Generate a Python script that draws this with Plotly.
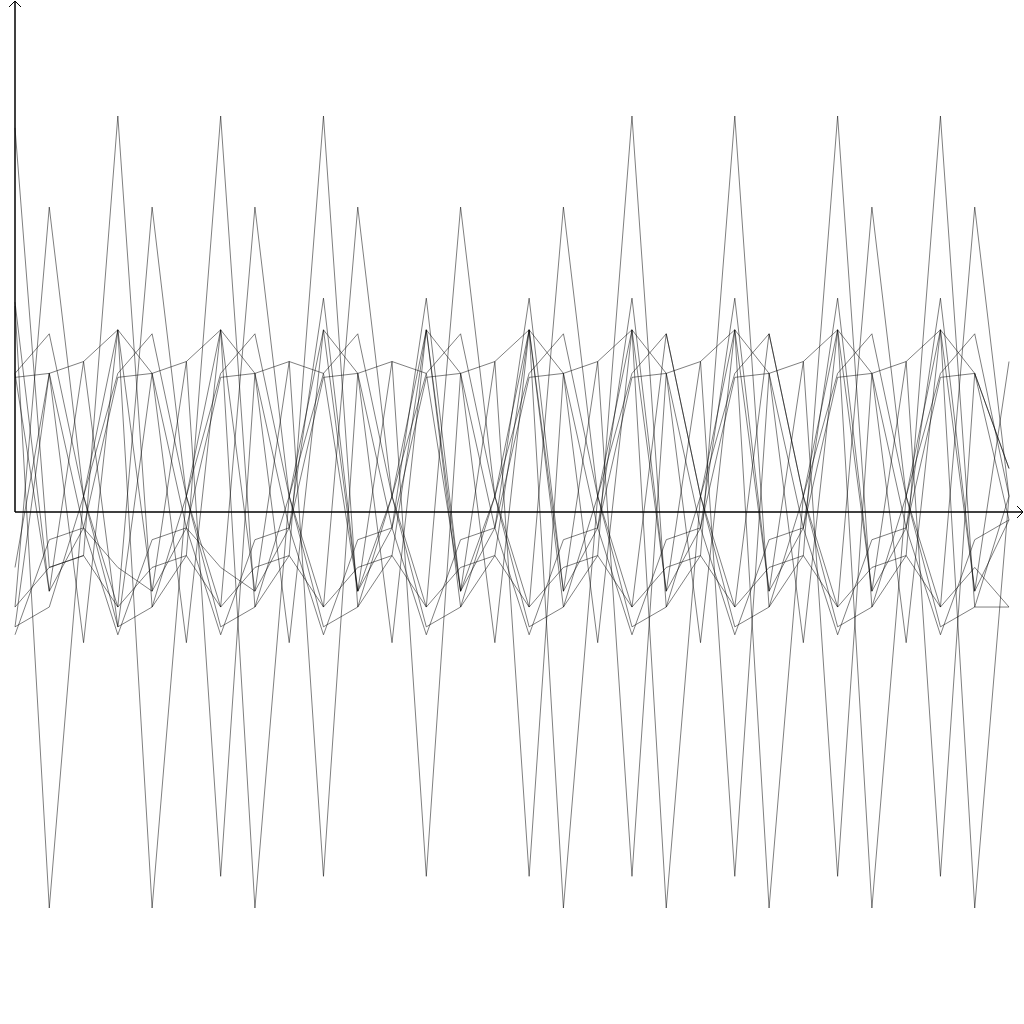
import plotly.graph_objects as go

# x positions (sample index)
steps = list(range(30))

# series values (+-1 = the tallest spikes)
s_peak = [0.97, -0.14, -0.11, 1.0, -0.24, -0.11, 1.0, -0.24, -0.11, 1.0, -0.24, -0.11, 0.46, -0.24, -0.11,
          0.46, -0.24, -0.11, 1.0, -0.24, -0.11, 1.0, -0.24, -0.11, 1.0, -0.24, -0.11, 1.0, -0.24, -0.24]
s_mid = [-0.24, 0.77, 0.04, -0.24, 0.77, 0.04, -0.24, 0.77, 0.04, -0.24, 0.77, 0.04, -0.24, 0.77, 0.04,
         -0.24, 0.77, 0.04, -0.24, 0.45, 0.04, -0.24, 0.45, 0.04, -0.24, 0.77, 0.04, -0.24, 0.77, 0.04]
s_trough = [0.52, -1.0, 0.04, 0.46, -1.0, 0.04, 0.46, -1.0, 0.04, 0.46, -0.2, 0.04, 0.46, -0.2, 0.04,
            0.46, -1.0, 0.04, 0.46, -1.0, 0.04, 0.46, -1.0, 0.04, 0.46, -1.0, 0.04, 0.46, -1.0, 0.04]
s_small = [0.53, -0.2, -0.04, -0.14, -0.2, -0.04, -0.14, -0.2, -0.04, 0.54, -0.2, -0.04, 0.54, -0.2, -0.04,
           0.54, -0.2, -0.04, 0.54, -0.2, -0.04, 0.54, -0.2, -0.04, 0.54, -0.2, -0.04, 0.54, -0.2, -0.02]
s_low = [-0.29, 0.35, 0.38, -0.29, 0.35, 0.38, -0.92, 0.35, 0.38, -0.92, 0.35, 0.38, -0.92, 0.35, 0.38,
         -0.92, 0.35, 0.38, -0.92, 0.35, 0.38, -0.92, 0.35, 0.38, -0.92, 0.35, 0.38, -0.92, 0.35, 0.11]
s_r = [0.35, -0.2, 0.38, 0.46, -0.2, 0.38, 0.46, -0.2, 0.38, 0.35, -0.2, 0.38, 0.35, -0.2, 0.38,
       0.46, -0.2, 0.38, 0.46, -0.2, 0.38, 0.46, -0.2, 0.38, 0.46, -0.2, 0.38, 0.46, -0.2, 0.38]
s_c1 = [0.35, 0.45, 0.04, 0.35, 0.45, 0.04, 0.35, 0.45, 0.04, 0.35, 0.45, 0.04, 0.35, 0.45, 0.04,
        0.35, 0.45, 0.04, 0.35, 0.45, 0.04, 0.35, 0.45, 0.04, 0.35, 0.45, 0.04, 0.35, 0.45, 0.04]
s_c2 = [0.34, 0.35, -0.04, 0.34, 0.35, -0.04, 0.34, 0.35, -0.04, 0.34, 0.35, -0.04, 0.34, 0.35, -0.04,
        0.34, 0.35, -0.04, 0.34, 0.35, -0.04, 0.34, 0.35, -0.04, 0.34, 0.35, -0.04, 0.34, 0.35, -0.02]
s_c4 = [-0.24, -0.14, -0.11, -0.24, -0.14, -0.11, -0.24, -0.14, -0.11, -0.24, -0.14, -0.11, -0.24, -0.14, -0.11,
        -0.24, -0.14, -0.11, -0.24, -0.14, -0.11, -0.24, -0.14, -0.11, -0.24, -0.14, -0.11, -0.24, -0.14, -0.24]
s_c5 = [-0.14, 0.35, -0.33, 0.46, 0.35, -0.33, 0.46, 0.35, -0.33, 0.46, 0.35, -0.33, 0.46, 0.35, -0.33,
        0.46, 0.35, -0.33, 0.46, 0.35, -0.33, 0.46, 0.35, -0.33, 0.46, 0.35, -0.33, 0.46, 0.35, 0.11]
s_c6 = [-0.29, -0.24, 0.04, -0.29, -0.24, 0.04, -0.29, -0.24, 0.04, -0.29, -0.24, 0.04, -0.29, -0.24, 0.04,
        -0.29, -0.24, 0.04, -0.29, -0.24, 0.04, -0.29, -0.24, 0.04, -0.29, -0.24, 0.04, -0.29, -0.24, 0.04]
s_c7 = [-0.31, -0.07, -0.04, -0.31, -0.07, -0.04, -0.31, -0.07, -0.04, -0.31, -0.07, -0.04, -0.31, -0.07, -0.04,
        -0.31, -0.07, -0.04, -0.31, -0.07, -0.04, -0.31, -0.07, -0.04, -0.31, -0.07, -0.04, -0.31, -0.07, -0.02]

series = [s_peak, s_mid, s_trough, s_small, s_low, s_r, s_c1, s_c2, s_c4, s_c5, s_c6, s_c7]

fig = go.Figure()
for ys in series:
    fig.add_trace(go.Scatter(x=steps, y=ys, mode="lines",
                             line=dict(color="rgba(0,0,0,0.5)", width=1),
                             hoverinfo="skip", showlegend=False))

W = 1024.0
def px(x):
    return x / W
def py(y):
    return 1 - y / W

axis_col = "black"
shapes = [
    dict(type="line", xref="paper", yref="paper", x0=px(15), y0=py(512), x1=px(15), y1=py(1),
         line=dict(color=axis_col, width=1.5)),
    dict(type="line", xref="paper", yref="paper", x0=px(9), y0=py(7), x1=px(15), y1=py(1),
         line=dict(color=axis_col, width=1)),
    dict(type="line", xref="paper", yref="paper", x0=px(21), y0=py(7), x1=px(15), y1=py(1),
         line=dict(color=axis_col, width=1)),
    dict(type="line", xref="paper", yref="paper", x0=px(15), y0=py(512), x1=px(1023), y1=py(512),
         line=dict(color=axis_col, width=1.5)),
    dict(type="line", xref="paper", yref="paper", x0=px(1017), y0=py(506), x1=px(1023), y1=py(512),
         line=dict(color=axis_col, width=1)),
    dict(type="line", xref="paper", yref="paper", x0=px(1017), y0=py(518), x1=px(1023), y1=py(512),
         line=dict(color=axis_col, width=1)),
]

step_px = 994.0 / 29.0
fig.update_layout(
    width=1024, height=1024,
    margin=dict(l=0, r=0, t=0, b=0),
    paper_bgcolor="white", plot_bgcolor="white",
    xaxis=dict(visible=False, range=[-15 / step_px, (1024 - 15) / step_px], fixedrange=True),
    yaxis=dict(visible=False, range=[-512 / 396.0, 512 / 396.0], fixedrange=True),
    shapes=shapes,
    showlegend=False,
)

fig.write_html("out.html", config={"displayModeBar": False})
